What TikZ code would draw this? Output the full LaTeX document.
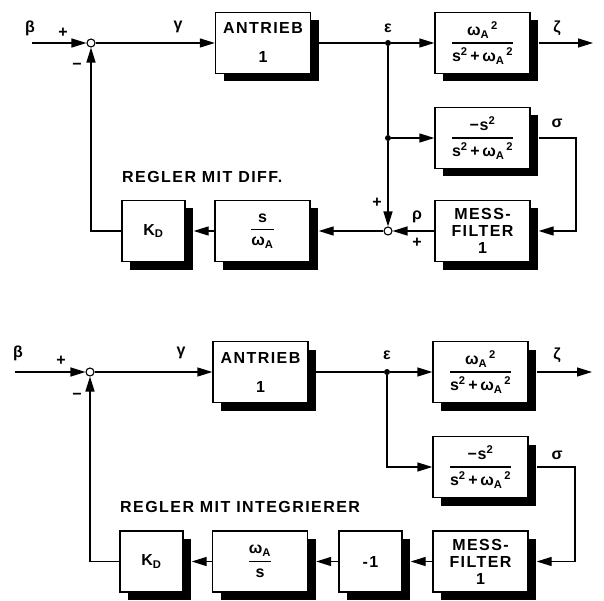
\documentclass[tikz,border=0pt]{standalone}
\usepackage{amsmath}
\usepackage{fontspec}
\setmainfont{Liberation Sans}
\newfontfamily\lsfont{Liberation Sans}[LetterSpace=9]
\newfontfamily\frfont{Liberation Sans}[LetterSpace=4]
\usetikzlibrary{arrows.meta,shadows}
\newcommand{\frc}[2]{$\genfrac{}{}{1.3pt}{0}{\mbox{#1}}{\mbox{#2}}$}
\newcommand{\wA}{ω\textsubscript{A}}
\begin{document}
\begin{tikzpicture}[x=1pt,y=-1pt,
  blk/.style={draw, line width=1.3pt, fill=white, minimum height=61pt, inner sep=0pt, align=center,
    font=\lsfont\bfseries\fontsize{16}{17}\selectfont,
    drop shadow={shadow xshift=8pt, shadow yshift=-8pt, fill=black, opacity=1}},
  wide/.style={blk, minimum width=95pt},
  narrow/.style={blk, minimum width=63pt},
  frac/.style={font=\frfont\bfseries\fontsize{16}{18}\selectfont},
  sum/.style={circle, draw, line width=1.1pt, fill=white, inner sep=0pt, minimum size=8pt},
  dot/.style={circle, fill=black, inner sep=0pt, minimum size=6pt},
  lbl/.style={font=\lsfont\bfseries\fontsize{16}{18}\selectfont, inner sep=0pt},
  sig/.style={line width=1.3pt},
  arr/.style={sig, -{Triangle[length=15pt,width=9pt]}},
]
\useasboundingbox (0,0) rectangle (604,601);

% ---------- top diagram ----------
\node[sum] (s1) at (91,43) {};
\coordinate (in1) at (32,43);
\node[wide] (ant1) at (263,43) {ANTRIEB\\[12pt]1};
\node[dot] (e1) at (388,43) {};
\node[wide, frac] (g11) at (482.5,43) {\frc{\wA\textsuperscript{\,2}}{s\textsuperscript{2}\,+\,\wA\textsuperscript{\,2}}};
\coordinate (zo1) at (593,43);
\coordinate (g11r) at ([xshift=8pt]g11.east);
\node[dot] (b1) at (388,138) {};
\node[wide, frac] (g21) at (482.5,138) {\frc{−s\textsuperscript{2}}{s\textsuperscript{2}\,+\,\wA\textsuperscript{\,2}}};
\coordinate (g21r) at ([xshift=8pt]g21.east);
\coordinate (c1) at (576,138);
\node[wide] (mf1) at (482.5,231) {MESS-\\FILTER\\1};
\coordinate (mf1r) at ([xshift=8pt]mf1.east);
\node[sum] (s2) at (388,231) {};
\node[wide, frac] (sw1) at (262.5,231) {\frc{s}{\wA}};
\coordinate (sw1r) at ([xshift=8pt]sw1.east);
\node[narrow] (kd1) at (153.5,231) {K\textsubscript{D}};
\coordinate (kd1r) at ([xshift=8pt]kd1.east);

\draw[arr] (in1) -- (s1);
\draw[arr] (s1) -- (ant1);
\draw[sig] (ant1.east) -- (e1);
\draw[arr] (e1) -- (g11);
\draw[arr] (g11r) -- (zo1);
\draw[sig] (e1) -- (b1);
\draw[arr] (b1) -- (g21);
\draw[arr] (b1) -- (s2);
\draw[arr] (g21r) -- (c1) |- (mf1r);
\draw[arr] (mf1) -- (s2);
\draw[arr] (s2) -- (sw1r);
\draw[arr] (sw1) -- (kd1r);
\draw[arr] (kd1) -| (s1);

\node[lbl] (lb1) at (30,28) {β};
\node[lbl] (lp1) at (63,33) {+};
\node[lbl] (lm1) at (77,66) {−};
\node[lbl] (lg1) at (178,27) {γ};
\node[lbl] (le1) at (388,28) {ε};
\node[lbl] (lz1) at (557,28) {ζ};
\node[lbl] (ls1) at (557,123) {σ};
\node[lbl] (lp2) at (377,203) {+};
\node[lbl] (lr1) at (417,217) {ρ};
\node[lbl] (lp3) at (417,243) {+};
\node[lbl, anchor=west] (t1) at (122,177) {REGLER MIT DIFF.};

% ---------- bottom diagram ----------
\node[sum] (s3) at (90,372) {};
\coordinate (in2) at (15,372);
\node[wide] (ant2) at (260.5,372) {ANTRIEB\\[12pt]1};
\node[dot] (e2) at (387,372) {};
\node[wide, frac] (g12) at (480.5,372) {\frc{\wA\textsuperscript{\,2}}{s\textsuperscript{2}\,+\,\wA\textsuperscript{\,2}}};
\coordinate (g12r) at ([xshift=8pt]g12.east);
\coordinate (zo2) at (592,372);
\coordinate (b2) at (387,467);
\node[wide, frac] (g22) at (480.5,467) {\frc{−s\textsuperscript{2}}{s\textsuperscript{2}\,+\,\wA\textsuperscript{\,2}}};
\coordinate (g22r) at ([xshift=8pt]g22.east);
\coordinate (c2) at (575,467);
\node[wide] (mf2) at (480.5,561.5) {MESS-\\FILTER\\1};
\coordinate (mf2r) at ([xshift=8pt]mf2.east);
\node[narrow] (m1) at (370.5,561.5) {-1};
\coordinate (m1r) at ([xshift=8pt]m1.east);
\node[wide, frac] (ws) at (260,561.5) {\frc{\wA}{s}};
\coordinate (wsr) at ([xshift=8pt]ws.east);
\node[narrow] (kd2) at (151.5,561.5) {K\textsubscript{D}};
\coordinate (kd2r) at ([xshift=8pt]kd2.east);

\draw[arr] (in2) -- (s3);
\draw[arr] (s3) -- (ant2);
\draw[sig] (ant2.east) -- (e2);
\draw[arr] (e2) -- (g12);
\draw[arr] (g12r) -- (zo2);
\draw[arr] (e2) -- (b2) -- (g22);
\draw[arr] (g22r) -- (c2) |- (mf2r);
\draw[arr] (mf2) -- (m1r);
\draw[arr] (m1) -- (wsr);
\draw[arr] (ws) -- (kd2r);
\draw[arr] (kd2) -| (s3);

\node[lbl] (lb2) at (18,353) {β};
\node[lbl] (lp4) at (61,361) {+};
\node[lbl] (lm2) at (77,396) {−};
\node[lbl] (lg2) at (181,353) {γ};
\node[lbl] (le2) at (387,355) {ε};
\node[lbl] (lz2) at (557,355) {ζ};
\node[lbl] (ls2) at (557,455) {σ};
\node[lbl, anchor=west] (t2) at (120,507) {REGLER MIT INTEGRIERER};
\end{tikzpicture}
\end{document}
